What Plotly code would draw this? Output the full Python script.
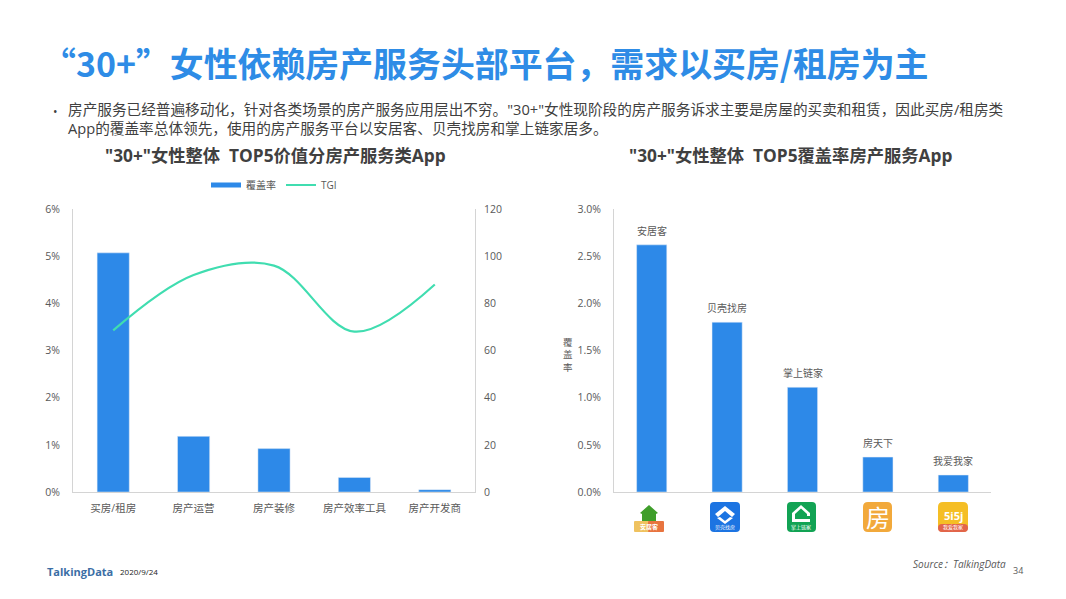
import plotly.graph_objects as go

W, H = 1066, 599
FONT = "Open Sans, Noto Sans CJK SC, sans-serif"
CJK = "Noto Sans CJK SC, sans-serif"
GREY = "#595959"
BLUE = "#2D89E8"
TEAL = "#40DDB0"
AXIS = "#D4D4D4"

categories_left = ["买房/租房", "房产运营", "房产装修", "房产效率工具", "房产开发商"]
coverage_left = [5.07, 1.18, 0.92, 0.31, 0.05]
tgi_left = [68.5, 92, 96, 68, 88]
left_ticks = [0, 1, 2, 3, 4, 5, 6]
left_labels = ["0%", "1%", "2%", "3%", "4%", "5%", "6%"]
right2_ticks = [0, 20, 40, 60, 80, 100, 120]

apps_right = ["安居客", "贝壳找房", "掌上链家", "房天下", "我爱我家"]
coverage_right = [2.62, 1.80, 1.11, 0.37, 0.18]
right_ticks = [0, 0.5, 1.0, 1.5, 2.0, 2.5, 3.0]
right_labels = ["0.0%", "0.5%", "1.0%", "1.5%", "2.0%", "2.5%", "3.0%"]


def px(x):
    return x / W


def py(y):
    return 1 - y / H


fig = go.Figure()
fig.add_bar(x=categories_left, y=coverage_left, name="覆盖率", marker_color=BLUE,
            width=0.4, showlegend=False, xaxis="x", yaxis="y")
fig.add_scatter(x=[None], y=[None], name="覆盖率", mode="lines",
                line=dict(color=BLUE, width=5), xaxis="x", yaxis="y")
fig.add_scatter(x=categories_left, y=tgi_left, name="TGI", mode="lines",
                line=dict(color=TEAL, width=2.2, shape="spline", smoothing=1.0),
                xaxis="x", yaxis="y2")
fig.add_bar(x=apps_right, y=coverage_right, marker_color=BLUE,
            width=0.4, showlegend=False, xaxis="x3", yaxis="y3")

anns = []


def text(x, y, s, size, color=GREY, weight=None, anchor="left", italic=False, font=FONT):
    anns.append(dict(x=px(x), y=py(y), xref="paper", yref="paper", text=s, showarrow=False,
                     xanchor=anchor, yanchor="middle", align="left",
                     font=dict(size=size, color=color, family=font,
                               weight=weight if weight else 400,
                               style="italic" if italic else "normal")))


for app, v in zip(apps_right, coverage_right):
    anns.append(dict(x=app, y=v, xref="x3", yref="y3", text=app, showarrow=False, yshift=14,
                     xanchor="center", yanchor="middle", font=dict(size=10, color=GREY, family=FONT)))

text(39.5, 62, "“30+”女性依赖房产服务头部平台，需求以买房/租房为主", 33.9, "#2E8CE6", 700, font=CJK)
text(51, 111, "•", 12, "#404040")
text(66, 119, "房产服务已经普遍移动化，针对各类场景的房产服务应用层出不穷。\"30+\"女性现阶段的房产服务诉求主要是房屋的买卖和租赁，因此买房/租房类<br>App的覆盖率总体领先，使用的房产服务平台以安居客、贝壳找房和掌上链家居多。", 14.65, "#404040")
text(275, 155, "\"30+\"女性整体  TOP5价值分房产服务类App", 17.3, "#404040", 700, "center")
text(790, 155, "\"30+\"女性整体  TOP5覆盖率房产服务App", 17.3, "#404040", 700, "center")
text(568, 355, "覆<br>盖<br>率", 9.5, GREY, None, "center")
text(911, 564, "Source：TalkingData", 10, "#595959", None, "left", True)
text(1011, 570, "34", 9, "#595959")
text(45, 571, "TalkingData", 11, "#3B6EA5", 700)
text(118, 571, "2020/9/24", 8, "#222222", 400)

shapes = []


def rrect(x0, y0, x1, y1, r, color):
    a0, b0, a1, b1 = px(x0), py(y0), px(x1), py(y1)
    rx, ry = r / W, r / H
    p = (f"M{a0+rx},{b0} L{a1-rx},{b0} Q{a1},{b0} {a1},{b0-ry} L{a1},{b1+ry} Q{a1},{b1} {a1-rx},{b1} "
         f"L{a0+rx},{b1} Q{a0},{b1} {a0},{b1+ry} L{a0},{b0-ry} Q{a0},{b0} {a0+rx},{b0} Z")
    shapes.append(dict(type="path", path=p, xref="paper", yref="paper", fillcolor=color, line_width=0))


def poly(points, color):
    p = "M" + " L".join(f"{px(x)},{py(y)}" for x, y in points) + " Z"
    shapes.append(dict(type="path", path=p, xref="paper", yref="paper", fillcolor=color, line_width=0))


# app icons (decoration under the right chart)
poly([(649, 505), (640, 513), (642, 514), (642, 521), (656, 521), (656, 514), (658, 513)], "#3F9E2B")
rrect(634, 521, 650, 532, 1, "#EFC25F")
rrect(648, 521, 664, 532, 1, "#E8743F")
text(649, 526.5, "安居客", 6, "#FFFFFF", 700, "center")
rrect(710, 502, 740, 532, 4, "#1C74E2")
poly([(725, 506), (715, 514), (718, 517), (725, 511), (732, 517), (735, 514)], "#FFFFFF")
poly([(717, 518), (725, 524), (733, 518), (730, 517), (725, 521), (720, 517)], "#FFFFFF")
text(725, 527.5, "贝壳找房", 5, "#FFFFFF", None, "center")
rrect(787, 502, 816, 532, 4, "#12A354")
poly([(801, 505), (792, 513), (792, 522), (810, 522), (810, 519), (795, 519), (795, 514), (801, 508.5), (807, 514), (807, 516), (810, 516), (810, 513)], "#FFFFFF")
text(801, 527.5, "掌上链家", 5, "#FFFFFF", None, "center")
rrect(863, 502, 892, 532, 5, "#F2A93B")
text(877.5, 516, "房", 24, "#FFFFFF", 400, "center", font=CJK)
rrect(938, 502, 968, 532, 5, "#F5BE25")
rrect(938, 524, 968, 532, 4, "#E2654A")
text(953, 515, "5i5j", 11, "#FFFFFF", 700, "center")
text(953, 527.5, "我爱我家", 5, "#FFFFFF", None, "center")

tickfont = dict(size=10.5, color=GREY, family=FONT)
yd = [py(492), py(209)]
fig.update_layout(
    width=W, height=H, margin=dict(l=0, r=0, t=0, b=0, autoexpand=False), autosize=False,
    paper_bgcolor="white", plot_bgcolor="white", font=dict(family=FONT),
    bargap=0.6, annotations=anns, shapes=shapes,
    legend=dict(orientation="h", x=px(274), xanchor="center", y=py(185), yanchor="middle",
                font=dict(size=10, color=GREY, family=FONT), itemwidth=30, bgcolor="rgba(0,0,0,0)",
                tracegroupgap=0),
    xaxis=dict(domain=[px(73), px(475)], anchor="y", showline=True, linecolor=AXIS, ticks="",
               tickfont=tickfont, showgrid=False, zeroline=False, ticklabelstandoff=6),
    yaxis=dict(domain=yd, range=[0, 6], tickvals=left_ticks, ticktext=left_labels, showline=True,
               linecolor=AXIS, showgrid=False, zeroline=False, tickfont=tickfont, ticks="",
               ticklabelstandoff=10),
    yaxis2=dict(domain=yd, range=[0, 120], tickvals=right2_ticks, overlaying="y", side="right",
                anchor="x", showline=True, linecolor=AXIS, showgrid=False, zeroline=False,
                tickfont=tickfont, ticks="", ticklabelstandoff=6),
    xaxis3=dict(domain=[px(614), px(991)], anchor="y3", showline=True, linecolor=AXIS, ticks="",
                showticklabels=False, showgrid=False, zeroline=False),
    yaxis3=dict(domain=yd, range=[0, 3], tickvals=right_ticks, ticktext=right_labels,
                anchor="x3", showline=True, linecolor=AXIS, showgrid=False, zeroline=False,
                tickfont=tickfont, ticks="", ticklabelstandoff=10),
)
fig.write_html("out.html", config={"displayModeBar": False},
               post_script="document.body.style.margin='0';window.dispatchEvent(new Event('resize'));")
